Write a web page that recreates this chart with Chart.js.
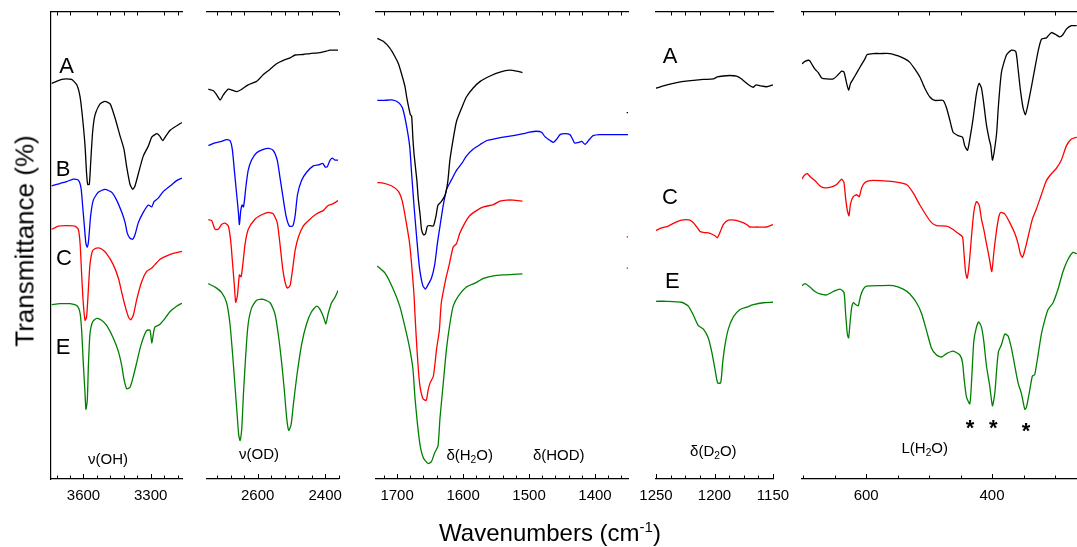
<!DOCTYPE html>
<html>
<head>
<meta charset="utf-8">
<script src="https://cdn.jsdelivr.net/npm/chart.js@4.4.0/dist/chart.umd.min.js"></script>
<style>
body { margin: 0; width: 1077px; height: 547px; overflow: hidden; background: #fff; position: relative; font-family: "Liberation Sans", Arial, sans-serif; }
canvas { position: absolute; top: 0; }
#ytitle { position: absolute; left: 25px; top: 241px; transform: translate(-50%, -50%) rotate(-90deg); white-space: nowrap; font-size: 26px; color: #000; }
#xtitle { position: absolute; left: 550px; top: 533px; transform: translate(-50%, -50%); white-space: nowrap; font-size: 24px; color: #000; }
#xtitle sup { font-size: 15px; vertical-align: 9px; line-height: 0; }
</style>
</head>
<body>
<canvas id="p1"></canvas>
<canvas id="p2"></canvas>
<canvas id="p3"></canvas>
<canvas id="p4"></canvas>
<canvas id="p5"></canvas>
<div id="ytitle">Transmittance (%)</div>
<div id="xtitle">Wavenumbers (cm<sup>-1</sup>)</div>
<script>
// spectra as [wavenumber, transmittance (offset, arb.)]
// nu(OH) region
var ohA = [[3742,85.4],[3720,85.8],[3697,86.2],[3675,86.3],[3653,86.2],[3630,85.1],[3615,82.6],[3604,78.3],[3593,72.6],[3586,66.9],[3581,64.7],[3574,64.7],[3568,69.0],[3559,75.5],[3548,79.0],[3526,81.2],[3504,81.7],[3481,81.2],[3459,78.3],[3437,74.7],[3419,71.9],[3407,68.3],[3392,64.7],[3380,63.7],[3370,64.4],[3355,66.9],[3333,70.5],[3310,72.6],[3295,74.4],[3273,75.1],[3261,74.7],[3246,73.7],[3231,74.7],[3213,75.8],[3191,76.5],[3160,77.4]];
var ohB = [[3742,64.4],[3705,64.9],[3675,65.3],[3645,65.8],[3623,65.6],[3611,64.0],[3604,60.5],[3596,56.2],[3589,52.6],[3583,51.9],[3577,53.3],[3568,58.3],[3556,61.5],[3534,63.1],[3504,63.7],[3474,63.1],[3452,61.5],[3429,59.0],[3414,56.9],[3404,54.7],[3392,53.7],[3380,53.5],[3370,54.4],[3355,56.9],[3333,59.0],[3310,60.5],[3295,60.1],[3285,61.2],[3266,61.9],[3243,63.3],[3213,64.4],[3184,65.5],[3160,66.0]];
var ohC = [[3742,55.5],[3712,56.2],[3675,56.3],[3638,56.2],[3623,55.5],[3615,52.6],[3608,46.2],[3601,40.5],[3593,36.9],[3586,37.6],[3578,43.3],[3571,48.3],[3559,51.2],[3541,51.7],[3519,51.5],[3496,50.5],[3467,48.3],[3444,45.5],[3429,42.6],[3414,39.8],[3399,37.6],[3389,37.0],[3377,38.0],[3362,41.2],[3340,44.8],[3318,46.9],[3295,47.6],[3281,48.3],[3258,49.4],[3228,50.1],[3199,50.6],[3160,51.0]];
var ohE = [[3742,40.1],[3705,40.3],[3660,40.3],[3627,39.8],[3615,38.3],[3608,34.8],[3601,28.3],[3593,21.9],[3589,18.7],[3583,20.5],[3578,27.6],[3571,34.1],[3559,36.6],[3541,37.3],[3519,36.9],[3496,35.8],[3467,33.3],[3444,30.5],[3429,27.6],[3419,24.8],[3407,22.9],[3392,23.2],[3377,25.5],[3362,28.3],[3347,31.2],[3333,33.3],[3318,34.8],[3303,34.9],[3295,32.3],[3288,34.1],[3281,35.5],[3261,36.0],[3243,36.9],[3213,38.7],[3184,39.8],[3160,40.4]];

// nu(OD) region
var odA = [[2746,84.2],[2731,83.9],[2721,83.0],[2711,82.0],[2702,83.0],[2687,84.2],[2672,83.9],[2662,83.7],[2647,84.2],[2628,85.1],[2603,85.8],[2583,87.2],[2563,88.3],[2544,89.4],[2524,90.1],[2504,90.6],[2489,91.2],[2465,91.3],[2445,91.5],[2415,91.7],[2396,92.0],[2386,92.2],[2362,92.2]];
var odB = [[2746,72.7],[2726,73.2],[2707,73.5],[2692,73.9],[2682,73.7],[2675,71.9],[2669,67.6],[2662,62.6],[2657,59.0],[2654,56.5],[2650,59.4],[2646,60.5],[2642,60.1],[2639,61.5],[2634,64.7],[2628,67.6],[2618,69.7],[2603,71.2],[2583,71.9],[2568,72.1],[2554,71.7],[2542,69.7],[2534,66.2],[2526,62.6],[2516,58.3],[2506,56.2],[2496,56.2],[2489,58.3],[2482,62.6],[2470,65.5],[2455,67.2],[2435,68.5],[2420,68.7],[2407,69.0],[2400,68.3],[2394,68.3],[2386,69.6],[2379,70.1],[2371,69.7],[2362,69.7]];
var odC = [[2746,57.5],[2736,57.3],[2726,55.5],[2716,55.6],[2707,56.5],[2697,56.8],[2687,56.2],[2680,53.3],[2674,48.3],[2669,44.0],[2665,40.6],[2660,41.9],[2654,46.2],[2649,45.8],[2644,48.3],[2637,52.6],[2628,55.5],[2608,57.6],[2588,58.5],[2568,59.0],[2554,58.7],[2542,56.9],[2534,52.6],[2526,47.6],[2519,44.8],[2512,43.5],[2504,44.0],[2496,47.6],[2489,51.2],[2479,54.0],[2465,56.2],[2445,57.6],[2425,58.7],[2405,59.4],[2396,60.1],[2388,60.5],[2376,60.8],[2362,61.4]];
var odE = [[2746,44.4],[2726,43.7],[2707,42.6],[2692,40.5],[2682,36.2],[2674,29.8],[2667,23.4],[2660,16.9],[2656,13.4],[2652,12.3],[2647,14.8],[2642,21.9],[2634,31.2],[2628,36.2],[2618,39.4],[2603,41.0],[2583,41.2],[2563,40.5],[2549,38.3],[2539,34.1],[2529,28.3],[2521,22.6],[2514,16.9],[2508,14.4],[2501,15.5],[2494,19.8],[2484,25.5],[2470,31.9],[2455,36.2],[2440,38.7],[2425,39.8],[2415,39.1],[2405,37.6],[2398,36.2],[2391,38.3],[2381,40.5],[2371,41.6],[2362,43.0]];

// delta(H2O) / delta(HOD) region
var h2oA = [[1730,94.6],[1721,94.0],[1711,92.6],[1703,90.8],[1698,89.4],[1693,87.2],[1688,84.7],[1685,82.2],[1680,79.0],[1678,78.7],[1676,74.0],[1674,70.5],[1670,65.5],[1668,61.9],[1665,58.3],[1663,55.5],[1660,54.4],[1657,54.6],[1654,56.2],[1650,56.3],[1645,56.2],[1641,58.3],[1638,60.5],[1633,61.2],[1627,62.6],[1623,65.5],[1620,69.7],[1615,74.0],[1610,77.6],[1602,80.4],[1595,82.6],[1585,84.4],[1574,85.8],[1559,86.9],[1544,87.7],[1529,88.1],[1519,87.9],[1510,87.6]];
var h2oB = [[1730,81.9],[1721,81.9],[1708,82.0],[1698,81.5],[1692,80.4],[1687,77.6],[1681,72.6],[1678,66.9],[1674,59.7],[1670,53.3],[1666,47.6],[1661,44.0],[1657,43.3],[1653,44.2],[1648,45.5],[1643,48.3],[1639,52.6],[1635,56.2],[1630,60.5],[1625,63.7],[1617,65.8],[1610,67.6],[1602,69.0],[1595,70.5],[1585,71.9],[1574,72.9],[1564,73.7],[1554,74.0],[1539,74.4],[1524,74.7],[1509,75.1],[1499,75.4],[1489,75.6],[1481,75.4],[1476,74.5],[1468,73.7],[1463,73.3],[1458,74.0],[1453,74.9],[1446,75.1],[1438,74.9],[1434,74.0],[1431,73.2],[1425,73.3],[1420,73.5],[1415,72.9],[1408,74.0],[1403,74.7],[1393,74.9],[1372,74.9],[1350,74.9]];
var h2oC = [[1730,65.1],[1721,65.0],[1708,64.4],[1698,63.3],[1692,61.2],[1687,57.6],[1681,52.6],[1678,48.3],[1675,43.3],[1674,41.2],[1673,38.3],[1670,31.2],[1666,24.1],[1661,20.9],[1656,20.5],[1653,22.6],[1650,24.1],[1645,25.5],[1640,31.2],[1636,34.8],[1633,40.5],[1626,45.5],[1621,48.3],[1615,51.9],[1610,52.6],[1605,54.7],[1597,56.9],[1590,58.3],[1579,59.4],[1569,60.1],[1554,60.6],[1544,61.3],[1534,61.5],[1524,61.5],[1510,61.3]];
var h2oE = [[1730,48.0],[1718,46.5],[1706,43.3],[1696,39.8],[1688,35.5],[1681,31.2],[1676,26.9],[1673,21.2],[1669,15.5],[1665,11.2],[1660,8.7],[1653,7.6],[1648,8.0],[1643,9.8],[1638,11.2],[1635,16.9],[1630,24.1],[1625,31.2],[1620,36.2],[1615,39.8],[1607,41.9],[1595,43.7],[1582,44.5],[1569,45.5],[1554,46.0],[1539,46.2],[1524,46.3],[1510,46.4]];
var edgeA = [[1352,79.4],[1350,79.4]];
var edgeC = [[1352,54.0],[1350,54.0]];
var edgeE = [[1352,47.6],[1350,47.6]];

// delta(D2O) region
var d2oA = [[1250,84.4],[1243.7,84.9],[1235.2,85.4],[1226.6,85.8],[1218.1,86.0],[1209.5,86.2],[1201,86.3],[1197.6,86.7],[1192.5,86.9],[1186.8,87.0],[1181.1,86.9],[1176.8,86.3],[1172.5,85.4],[1169.7,84.9],[1166.8,84.6],[1164.5,85.1],[1161.1,84.9],[1155.4,84.7],[1150,85.1]];
var d2oC = [[1250,55.3],[1245.2,55.8],[1239.5,56.2],[1233.8,56.9],[1228.1,57.4],[1220.9,57.4],[1216.7,56.5],[1212.4,55.1],[1209.5,54.9],[1203.8,54.7],[1199.6,54.2],[1197.6,53.8],[1195.3,54.9],[1192.5,56.5],[1188.2,57.4],[1182.5,57.4],[1176.8,57.0],[1172.5,56.5],[1169.7,56.0],[1164,56.0],[1155.4,56.0],[1150,56.5]];
var d2oE = [[1250,40.8],[1240.9,40.8],[1228.1,40.6],[1222.4,39.8],[1218.1,38.0],[1213.8,35.8],[1209.5,35.1],[1205.3,33.3],[1202.4,30.5],[1199.6,26.9],[1197.3,24.1],[1194.7,24.1],[1193,28.3],[1191,31.9],[1188.2,35.1],[1183.9,37.6],[1178.2,39.1],[1172.5,39.6],[1166.8,40.1],[1158.3,40.5],[1150,40.6]];

// L(H2O) librational region
var libA = [[702,89.4],[697.2,89.9],[690.4,90.1],[686.7,89.4],[681.4,88.3],[676.1,87.6],[670.8,86.5],[662.8,86.3],[652.3,86.3],[644.3,87.2],[639,87.9],[635.3,87.7],[631.1,85.4],[627.9,84.0],[624.8,85.4],[617.9,86.9],[609.9,88.7],[602,90.4],[598.3,91.3],[588.8,91.5],[578.2,91.5],[562.3,91.5],[549.1,91.0],[538.5,90.4],[530.6,89.7],[522.6,88.3],[514.7,86.7],[506.8,84.4],[498.8,82.6],[490.9,81.9],[477.7,81.9],[472.4,80.4],[467.1,77.9],[461.8,75.4],[453.9,74.7],[447,74.4],[443.3,72.6],[439,71.7],[435.3,74.0],[430,78.3],[424.8,83.3],[420.5,85.4],[416.8,84.4],[413.1,81.2],[408.9,76.9],[404.6,74.0],[402,72.6],[399.4,69.7],[396.8,71.2],[392.6,75.4],[390.1,80.4],[385.1,87.6],[377.1,91.2],[369.2,92.2],[362.3,91.9],[358.6,88.3],[354.9,84.0],[350.7,80.4],[347,79.0],[342.7,81.2],[337.4,84.7],[332.2,88.3],[326.9,91.9],[321.6,94.4],[313.6,94.7],[305.7,95.8],[298.8,95.4],[292.5,94.9],[287.2,95.4],[281.9,96.5],[273.9,97.2],[265.5,97.2]];
var libC = [[702,65.8],[698.8,66.5],[693.5,66.9],[688.2,66.2],[681.4,65.5],[673.4,64.4],[665.5,64.0],[654.9,64.2],[647,64.7],[639,65.8],[635.3,65.1],[632.7,61.9],[630,59.4],[627.4,58.3],[624.8,60.8],[620.5,62.2],[615.2,62.6],[611,62.2],[607.3,64.0],[602,65.1],[594.1,65.5],[578.2,65.5],[557,65.3],[535.9,64.7],[525.3,63.0],[514.7,60.5],[504.1,58.3],[496.2,56.9],[488.2,56.3],[472.4,56.2],[461.8,55.5],[453.9,54.7],[447,54.0],[444.9,51.2],[442.2,46.9],[439.6,45.5],[436.4,48.3],[432.7,54.0],[429,59.0],[424.8,61.2],[420.5,60.5],[416.8,57.6],[413.1,55.5],[408.9,52.6],[404.6,49.8],[400.4,46.9],[396.8,51.2],[392.6,55.5],[388.8,58.3],[386.1,59.0],[379.8,58.7],[371.8,56.9],[363.9,54.7],[358.6,52.6],[354.9,50.5],[351.7,49.8],[348,51.2],[342.7,54.0],[335.9,57.6],[329.5,59.7],[321.6,62.6],[313.6,65.5],[305.7,66.9],[297.8,68.0],[289.8,69.7],[281.9,72.6],[273.9,74.0],[265.5,74.4]];
var libE = [[702,44.0],[697.2,44.4],[689.3,43.7],[681.4,42.8],[673.4,42.3],[662.8,42.1],[652.3,42.8],[641.7,43.3],[635.3,42.6],[632.7,38.3],[630,34.1],[627.9,33.3],[625.8,36.2],[623.2,39.4],[620.5,40.5],[616.3,40.1],[612.6,39.9],[608.9,41.9],[604.6,43.3],[599.4,43.9],[578.2,44.0],[557,44.0],[541.2,43.3],[530.6,42.3],[520,40.5],[512,38.3],[504.1,34.8],[496.2,31.2],[488.2,29.8],[480.3,29.4],[472.4,30.1],[461.8,30.6],[451.2,29.8],[447,28.3],[444.3,24.8],[440.6,21.2],[435.3,19.8],[432.7,24.1],[429,32.6],[424.8,35.5],[421.1,36.6],[416.8,35.5],[413.1,32.6],[408.9,27.6],[403.6,23.4],[399.4,19.4],[395.7,21.9],[392.6,26.9],[389.8,30.5],[385.1,31.9],[379.8,34.1],[374.5,33.7],[369.2,31.2],[363.9,27.6],[358.6,24.1],[353.3,21.9],[348,18.7],[345.4,19.1],[340.1,22.6],[335.9,25.5],[332.2,25.8],[326.9,29.8],[321.6,34.1],[316.3,36.9],[311,39.1],[303.1,40.5],[295.1,43.3],[287.2,46.9],[279.2,49.4],[271.3,50.8],[265.5,50.5]];

// axis ticks
var ohTicks = [3720, 3660, 3600, 3540, 3480, 3420, 3360, 3300, 3240, 3180];
var odTicks = [2720, 2680, 2640, 2600, 2560, 2520, 2480, 2440, 2400, 2360];
var h2oTicks = [1720, 1700, 1680, 1660, 1640, 1620, 1600, 1580, 1560, 1540, 1520, 1500, 1480, 1460, 1440, 1420, 1400, 1380, 1360];
var d2oTicks = [1250, 1237.5, 1225, 1212.5, 1200, 1187.5, 1175, 1162.5, 1150];
var libTicks = [700, 650, 600, 550, 500, 450, 400, 350, 300];
var ohLabels = [3600, 3300];
var odLabels = [2600, 2400];
var h2oLabels = [1700, 1600, 1500, 1400];
var d2oLabels = [1250, 1200, 1150];
var libLabels = [600, 400];

var FONT = '"Liberation Sans", Arial, sans-serif';
var PAD = 30;
var BLACK = '#000000', BLUE = '#0000ff', RED = '#ff0000', GREEN = '#008000';

// text in a panel: pieces split by '|', odd pieces are subscripts
function drawRich(ctx, text, x, y, size, bold) {
  var parts = text.split('|');
  var w = 0, i;
  var fonts = parts.map(function(p, k) {
    return (bold ? 'bold ' : '') + (k % 2 ? size * 0.68 : size) + 'px ' + FONT;
  });
  for (i = 0; i < parts.length; i++) { ctx.font = fonts[i]; w += ctx.measureText(parts[i]).width; }
  var cx = x - w / 2;
  ctx.textAlign = 'left';
  ctx.textBaseline = 'middle';
  for (i = 0; i < parts.length; i++) {
    ctx.font = fonts[i];
    ctx.fillText(parts[i], cx, y + (i % 2 ? size * 0.28 : 0));
    cx += ctx.measureText(parts[i]).width;
  }
}

var inwardTicks = {
  id: 'inwardTicks',
  afterDraw: function(chart) {
    var ctx = chart.ctx, a = chart.chartArea, sx = chart.scales.x;
    ctx.save();
    ctx.strokeStyle = '#000';
    ctx.lineWidth = 1;
    sx.ticks.forEach(function(t) {
      var px = Math.round(sx.getPixelForValue(t.value)) + 0.5;
      var major = !!t.label;
      ctx.beginPath();
      ctx.moveTo(px, a.bottom);
      ctx.lineTo(px, a.bottom - (major ? 5 : 3.5));
      if (!major) {
        ctx.moveTo(px, a.top);
        ctx.lineTo(px, a.top + 3.5);
      }
      ctx.stroke();
    });
    ctx.restore();
  }
};

var notesPlugin = {
  id: 'notes',
  afterDraw: function(chart, args, opts) {
    var ctx = chart.ctx, sx = chart.scales.x, sy = chart.scales.y;
    ctx.save();
    ctx.fillStyle = '#000';
    (opts.items || []).forEach(function(n) {
      drawRich(ctx, n.t, sx.getPixelForValue(n.x), sy.getPixelForValue(n.y), n.size, n.bold);
    });
    ctx.restore();
  }
};

var panels = [
  { id: 'p1', left: 51, right: 182, max: 3745, min: 3160, ticks: ohTicks, labels: ohLabels, yLine: true,
    series: [[ohA, BLACK], [ohB, BLUE], [ohC, RED], [ohE, GREEN]],
    notes: [
      { t: 'A', x: 3675, y: 88.7, size: 22 }, { t: 'B', x: 3691, y: 67.6, size: 22 },
      { t: 'C', x: 3687, y: 49.4, size: 22 }, { t: 'E', x: 3691, y: 31.2, size: 22 },
      { t: '\u03bd(OH)', x: 3490, y: 8.4, size: 15 }
    ] },
  { id: 'p2', left: 207, right: 338, max: 2750, min: 2362, ticks: odTicks, labels: odLabels,
    series: [[odA, BLACK], [odB, BLUE], [odC, RED], [odE, GREEN]],
    notes: [{ t: '\u03bd(OD)', x: 2596, y: 9.4, size: 15 }] },
  { id: 'p3', left: 376, right: 628, max: 1732, min: 1350, ticks: h2oTicks, labels: h2oLabels,
    series: [[h2oA, BLACK], [h2oB, BLUE], [h2oC, RED], [h2oE, GREEN], [edgeA, BLACK], [edgeC, RED], [edgeE, GREEN]],
    notes: [{ t: '\u03b4(H|2|O)', x: 1590, y: 9.1, size: 15 }, { t: '\u03b4(HOD)', x: 1455, y: 9.1, size: 15 }] },
  { id: 'p4', left: 656, right: 773, max: 1250, min: 1150, ticks: d2oTicks, labels: d2oLabels,
    series: [[d2oA, BLACK], [d2oC, RED], [d2oE, GREEN]],
    notes: [
      { t: 'A', x: 1238, y: 90.8, size: 22 }, { t: 'C', x: 1238, y: 61.9, size: 22 },
      { t: 'E', x: 1236, y: 44.8, size: 22 },
      { t: '\u03b4(D|2|O)', x: 1201, y: 9.9, size: 15 }
    ] },
  { id: 'p5', left: 802, right: 1077, max: 702, min: 265, ticks: libTicks, labels: libLabels,
    series: [[libA, BLACK], [libC, RED], [libE, GREEN]],
    notes: [
      { t: 'L(H|2|O)', x: 507, y: 10.5, size: 15 },
      { t: '*', x: 435, y: 14.7, size: 22, bold: true }, { t: '*', x: 398, y: 14.7, size: 22, bold: true },
      { t: '*', x: 346, y: 14.1, size: 22, bold: true }
    ] }
];

panels.forEach(function(p) {
  var cv = document.getElementById(p.id);
  cv.width = p.right - p.left + 2 * PAD;
  cv.height = 547;
  cv.style.left = (p.left - PAD) + 'px';

  new Chart(cv, {
    type: 'line',
    data: {
      datasets: p.series.map(function(s) {
        return {
          data: s[0].map(function(d) { return { x: d[0], y: d[1] }; }),
          xAxisID: 'x', yAxisID: 'y',
          borderColor: s[1], borderWidth: 1.3,
          pointRadius: 0, tension: 0.2, fill: false
        };
      })
    },
    options: {
      responsive: false,
      animation: false,
      events: [],
      layout: { padding: { left: PAD, right: PAD, top: 0, bottom: 0 } },
      plugins: {
        legend: { display: false },
        tooltip: { enabled: false },
        notes: { items: p.notes }
      },
      scales: {
        x: {
          type: 'linear', position: 'bottom', reverse: true, min: p.min, max: p.max,
          afterBuildTicks: function(s) { s.ticks = p.ticks.map(function(v) { return { value: v }; }); },
          afterFit: function(s) { s.height = 68; },
          grid: { display: false, drawTicks: false },
          border: { display: true, color: '#000', width: 1.2 },
          ticks: {
            autoSkip: false, maxRotation: 0, padding: 8, color: '#000',
            font: { size: 15, family: FONT },
            callback: function(v) { return p.labels.indexOf(v) >= 0 ? String(v) : ''; }
          }
        },
        xt: {
          type: 'linear', position: 'top', reverse: true, min: p.min, max: p.max,
          afterFit: function(s) { s.height = 12; },
          grid: { display: false, drawTicks: false },
          border: { display: true, color: '#000', width: 1.2 },
          ticks: { display: false }
        },
        y: {
          type: 'linear', min: 4.43, max: 100,
          display: !!p.yLine,
          afterFit: function(s) { s.width = 0; },
          grid: { display: false, drawTicks: false },
          border: { display: true, color: '#000', width: 1.2 },
          ticks: { display: false }
        }
      }
    },
    plugins: [inwardTicks, notesPlugin]
  });
});
</script>
</body>
</html>
